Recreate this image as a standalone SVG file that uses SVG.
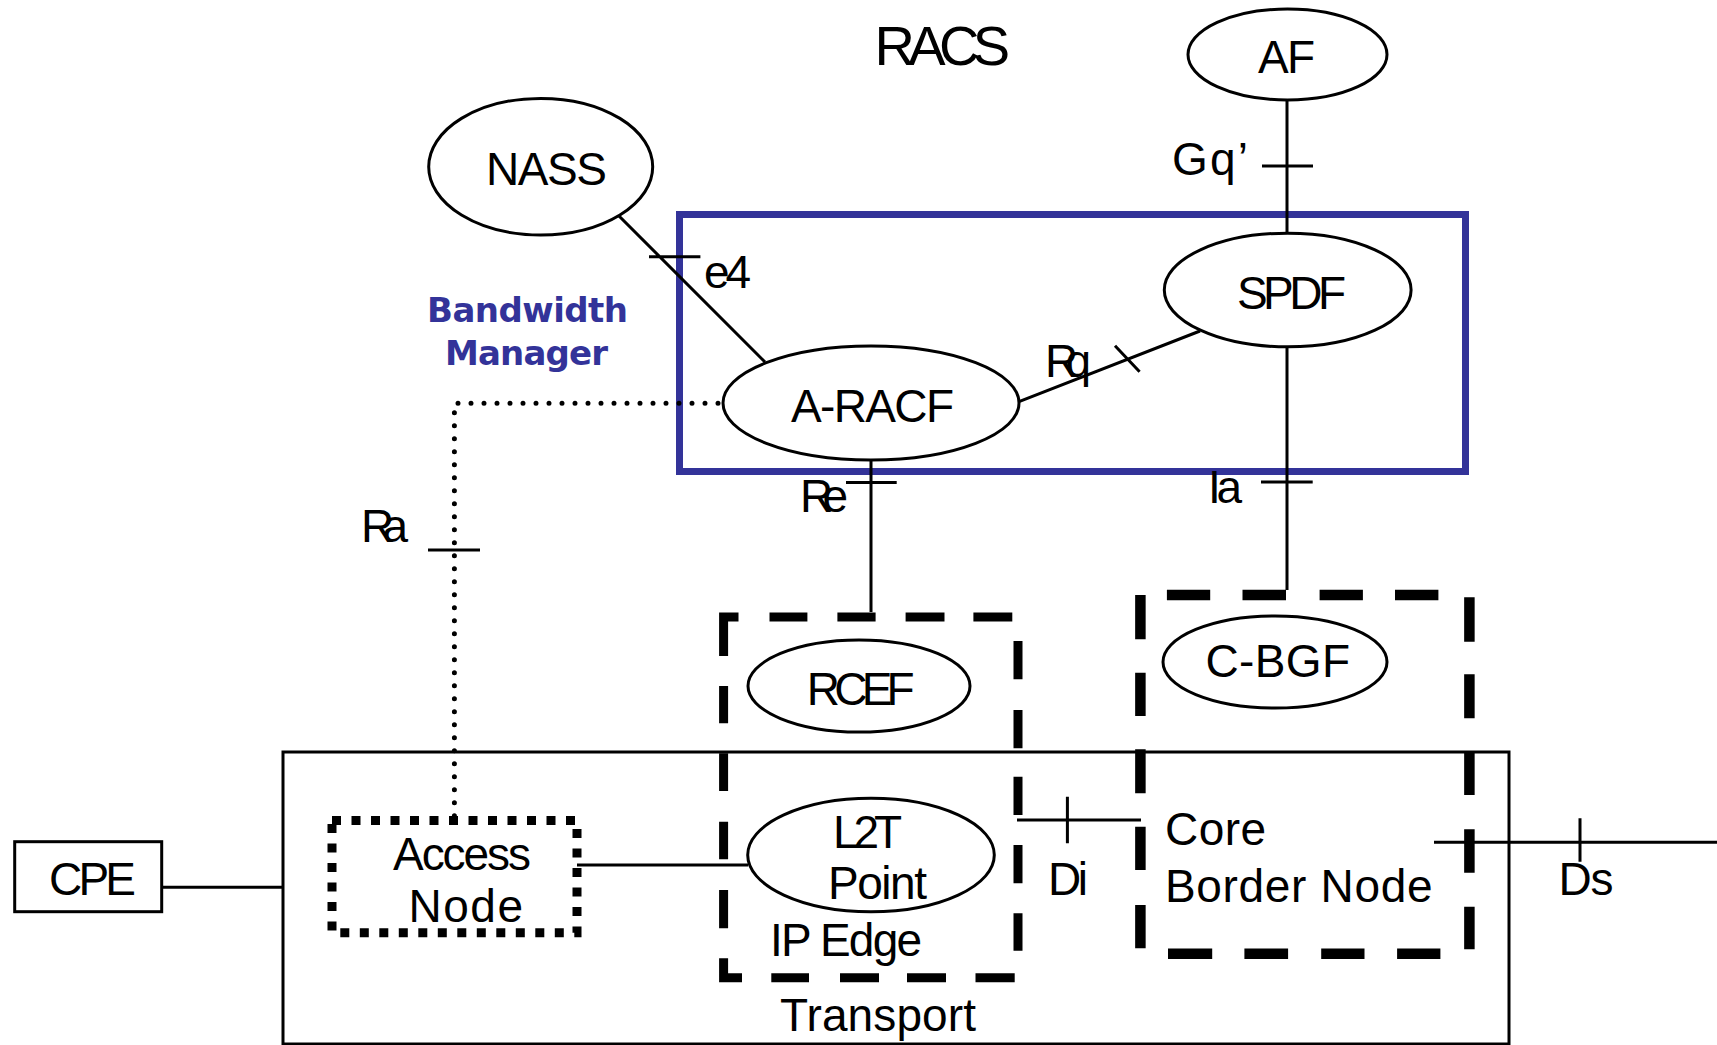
<svg xmlns="http://www.w3.org/2000/svg" width="1717" height="1045" viewBox="0 0 1717 1045">
<style>
text{font-family:"Liberation Sans",Arial,sans-serif;font-size:46px;fill:#000}
.big{font-size:56px}
.bw{font-family:"DejaVu Sans",Verdana,sans-serif;font-weight:bold;font-size:34px;fill:#333399}
.el{fill:#fff;stroke:#000;stroke-width:3}
.ln{fill:none;stroke:#000;stroke-width:3}
.box{fill:none;stroke:#000;stroke-width:3}
.dash1{fill:none;stroke:#000;stroke-width:9}
.dash2{fill:none;stroke:#000;stroke-width:10.5}
.dots{fill:none;stroke:#000;stroke-width:9;stroke-dasharray:9 10.5}
.ra{fill:none;stroke:#000;stroke-width:5;stroke-dasharray:0 13;stroke-linecap:round}
</style>
<rect width="1717" height="1045" fill="#fff"/>
<g id="transport">
<rect class="box" x="283" y="752" width="1226" height="292"/>
<text x="780" y="1031" textLength="196">Transport</text>
</g>
<g id="racs-title"><text class="big" x="874.5" y="65" textLength="135.5">RACS</text></g>
<g id="bandwidth-manager">
<rect x="679.5" y="214.5" width="786" height="257" fill="none" stroke="#333399" stroke-width="7"/>
<text class="bw" x="427" y="322" textLength="201">Bandwidth</text>
<text class="bw" x="445" y="365" textLength="163">Manager</text>
</g>
<g id="connectors">
<path class="ln" d="M1287,100 V233 M1262,166 H1313"/>
<path class="ln" d="M618,215 L765,362 M649,256.7 H700.4"/>
<path class="ln" d="M1019,401.7 L1200,331 M1115,345.7 L1139.6,371.7"/>
<path class="ln" d="M871,460 V612 M846,482.5 H896.7"/>
<path class="ln" d="M1287,347 V590 M1261,482 H1312.7"/>
<path class="ln" d="M162,887.3 H282"/>
<path class="ln" d="M577,865 H748"/>
<path class="ln" d="M1017,820 H1141 M1067.4,796.7 V843.3"/>
<path class="ln" d="M1434,842.3 H1717 M1580,818.3 V861.7"/>
<path class="ra" d="M718,403.3 H454.4 V816"/>
<path class="ln" d="M428,550 H480"/>
<text x="1172" y="175" textLength="76">Gq’</text>
<text x="704" y="288" textLength="47">e4</text>
<text x="1045" y="377" textLength="46">Rq</text>
<text x="800" y="512" textLength="48">Re</text>
<text x="1208" y="503" textLength="34">Ia</text>
<text x="361" y="542" textLength="47">Ra</text>
<text x="1048" y="895" textLength="40">Di</text>
<text x="1558.5" y="895" textLength="55">Ds</text>
</g>
<g id="af"><ellipse class="el" cx="1287.5" cy="54.5" rx="99.5" ry="45.5"/><text x="1258" y="73" textLength="57">AF</text></g>
<g id="nass"><ellipse class="el" cx="540.7" cy="166.7" rx="112" ry="68.3"/><text x="486" y="185" textLength="121">NASS</text></g>
<g id="spdf"><ellipse class="el" cx="1287.7" cy="290" rx="123.4" ry="56.8"/><text x="1237" y="309" textLength="109">SPDF</text></g>
<g id="a-racf"><ellipse class="el" cx="871" cy="403" rx="148" ry="57"/><text x="791" y="422" textLength="163">A-RACF</text></g>
<g id="ip-edge">
<path class="dash1" d="M738.5,617 H723.6 V656 M769.5,617 H807.4 M837.4,617 H875.6 M905.6,617 H944.5 M973.4,617 H1012.3 M1018,641 V679.3 M1018,710 V748.3 M1018,776.7 V815 M1018,845 V883.3 M1018,913.3 V950.7 M723.6,686 V723.3 M723.6,753.3 V791 M723.6,821.7 V859.3 M723.6,890 V928.3 M723.6,958.3 V977.8 H742 M771.3,977.8 H809 M840,977.8 H879 M907,977.8 H946 M975.5,977.8 H1014.7"/>
<text x="770" y="956" textLength="152">IP Edge</text>
</g>
<g id="rcef"><ellipse class="el" cx="859" cy="686" rx="111" ry="46"/><text x="806.7" y="705" textLength="108">RCEF</text></g>
<g id="l2t-point"><ellipse class="el" cx="871" cy="855" rx="123.3" ry="56.7"/><text x="833" y="848" textLength="69">L2T</text><text x="828" y="899" textLength="99">Point</text></g>
<g id="core-border-node">
<path class="dash2" d="M1166.9,595 H1210.2 M1242.5,595 H1286 M1319.6,595 H1362.9 M1395,595 H1438.4 M1140.4,595 V639.3 M1140.4,672.7 V716 M1140.4,749.3 V793.3 M1140.4,826.7 V870 M1140.4,905 V948.3 M1469.4,597.3 V641.7 M1469.4,674.3 V718.3 M1469.4,751.7 V795 M1469.4,829.3 V872.7 M1469.4,906.7 V949.3 M1168,953.7 H1212.2 M1244.4,953.7 H1288.1 M1321.2,953.7 H1364.5 M1397.1,953.7 H1440.4"/>
<text x="1165" y="845" textLength="101">Core</text>
<text x="1165" y="902" textLength="267.5">Border Node</text>
</g>
<g id="c-bgf"><ellipse class="el" cx="1275" cy="662" rx="112" ry="46"/><text x="1205.5" y="677" textLength="144.5">C-BGF</text></g>
<g id="access-node">
<rect class="dots" x="332" y="820.5" width="245" height="112.3"/>
<text x="393" y="870" textLength="138">Access</text>
<text x="408.5" y="921.7" textLength="114.5">Node</text>
</g>
<g id="cpe"><rect class="box" x="14.7" y="841.7" width="147" height="70"/><text x="49" y="895" textLength="87">CPE</text></g>
</svg>
